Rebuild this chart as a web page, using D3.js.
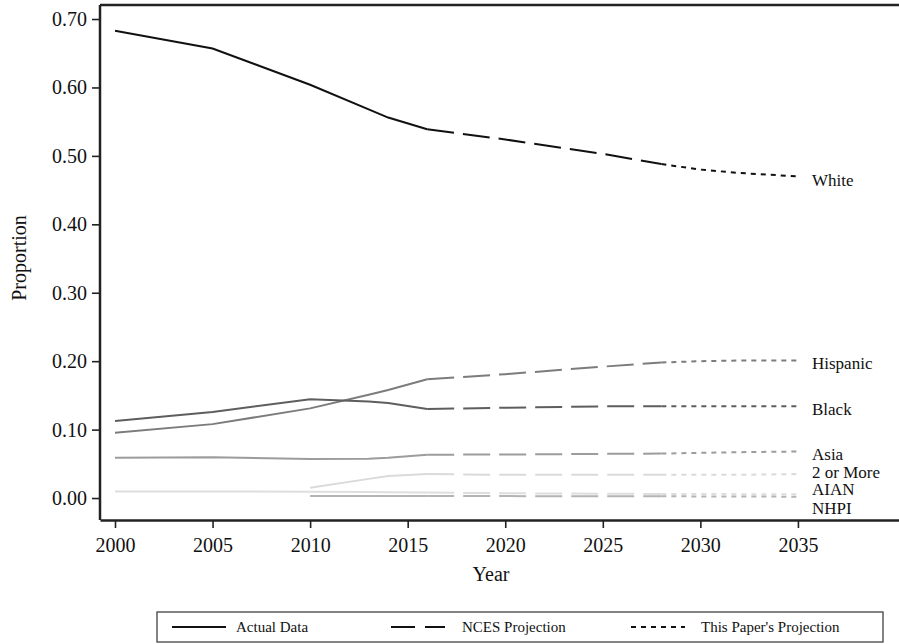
<!DOCTYPE html>
<meta charset="utf-8">
<style>
    body { margin: 0; background: #fff; }
    svg text { font-family: "Liberation Serif", "Times New Roman", "DejaVu Serif", serif !important; fill: #111; }
</style>
<body>
<script src="https://d3js.org/d3.v7.min.js"></script>
<script>
    // chart size
    let width = 899;
    let height = 644;

    // years for each of the three segments
    const actualYears = [2000, 2005, 2010, 2013, 2014, 2016];
    const ncesYears = [2016, 2020, 2025, 2028];
    const paperYears = [2028, 2030, 2032, 2035];

    const groups = ["White", "Hispanic", "Black", "Asia", "2 or More", "AIAN", "NHPI"];

    // actual data (null = not reported)
    const whiteActual = [0.683, 0.657, 0.604, 0.568, 0.556, 0.539];
    const hispanicActual = [0.0955, 0.108, 0.131, 0.151, 0.158, 0.1735];
    const blackActual = [0.1126, 0.1257, 0.1443, 0.141, 0.139, 0.130];
    const asiaActual = [0.0589, 0.0597, 0.057, 0.0575, 0.059, 0.0633];
    const twoMoreActual = [null, null, 0.0151, 0.028, 0.0322, 0.035];
    const aianActual = [0.0095, 0.0095, 0.0093, 0.0088, 0.0085, 0.0080];
    const nhpiActual = [null, null, 0.003, 0.003, 0.003, 0.003];

    // NCES projection
    const whiteNces = [0.539, 0.524, 0.503, 0.488];
    const hispanicNces = [0.1735, 0.181, 0.192, 0.198];
    const blackNces = [0.130, 0.132, 0.134, 0.134];
    const asiaNces = [0.0633, 0.0636, 0.0645, 0.065];
    const twoMoreNces = [0.035, 0.034, 0.034, 0.034];
    const aianNces = [0.0080, 0.0070, 0.0062, 0.006];
    const nhpiNces = [0.003, 0.0028, 0.0026, 0.0025];

    // this paper's projection
    const whitePaper = [0.488, 0.480, 0.475, 0.470];
    const hispanicPaper = [0.198, 0.200, 0.201, 0.201];
    const blackPaper = [0.134, 0.134, 0.134, 0.134];
    const asiaPaper = [0.065, 0.066, 0.067, 0.068];
    const twoMorePaper = [0.034, 0.034, 0.034, 0.035];
    const aianPaper = [0.006, 0.0058, 0.0057, 0.0055];
    const nhpiPaper = [0.0025, 0.0024, 0.0022, 0.002];

    // where the end labels sit (in proportion units)
    const labelValues = [0.465, 0.197, 0.130, 0.064, 0.038, 0.013, -0.015];

    const yTicks = [0, 0.1, 0.2, 0.3, 0.4, 0.5, 0.6, 0.7];
    const xTicks = [2000, 2005, 2010, 2015, 2020, 2025, 2030, 2035];

    const legendLabels = ["Actual Data", "NCES Projection", "This Paper's Projection"];

    const actual = [whiteActual, hispanicActual, blackActual, asiaActual, twoMoreActual, aianActual, nhpiActual];
    const nces = [whiteNces, hispanicNces, blackNces, asiaNces, twoMoreNces, aianNces, nhpiNces];
    const paper = [whitePaper, hispanicPaper, blackPaper, asiaPaper, twoMorePaper, aianPaper, nhpiPaper];

    let color = d3.scaleOrdinal()
        .domain(groups)
        .range(["#111111", "#7c7c7c", "#5e5e5e", "#9c9c9c", "#dadada", "#dedede", "#b4b4b4"]);

    const dashes = ["none", "27,9", "5,5"];

    let svg = d3.select("body").append("svg")
        .attr("width", width)
        .attr("height", height)
        .attr("font-family", "Liberation Serif, serif");

    let x = d3.scaleLinear().domain([1999.231, 2040.18]).range([100, 899]);
    let y = d3.scaleLinear().domain([-0.0321, 0.7205]).range([520, 5]);

    // frame: top rule plus the two axes
    svg.append("line").attr("x1", 100).attr("x2", 899).attr("y1", 5).attr("y2", 5)
        .attr("stroke", "#222").attr("stroke-width", 2.5);

    let gx = svg.append("g").attr("transform", "translate(0,520)")
        .call(d3.axisBottom(x).tickValues(xTicks).tickFormat(d3.format("d")).tickSize(8).tickSizeOuter(0));
    let gy = svg.append("g").attr("transform", "translate(100,0)")
        .call(d3.axisLeft(y).tickValues(yTicks).tickFormat(d3.format(".2f")).tickSize(8).tickSizeOuter(0));

    [gx, gy].forEach(g => {
        g.attr("font-family", null).attr("font-size", null);
        g.select(".domain").attr("stroke", "#222").attr("stroke-width", 2.5);
        g.selectAll(".tick line").attr("stroke", "#222").attr("stroke-width", 1.6);
        g.selectAll(".tick text")
            .style("font-size", "20px")
            .attr("fill", "#111");
    });
    gx.selectAll(".tick text").attr("dy", "1.05em");
    gy.selectAll(".tick text").attr("x", -13);
    gy.select(".domain").attr("d", "M0,5V520");

    // axis titles
    svg.append("text")
        .attr("x", 491).attr("y", 581)
        .attr("text-anchor", "middle")
        .style("font-size", "20px")
        .text("Year");
    svg.append("text")
        .attr("transform", "translate(26,258) rotate(-90)")
        .attr("text-anchor", "middle")
        .style("font-size", "20px")
        .text("Proportion");

    let line = d3.line()
        .defined(d => d[1] !== null)
        .x(d => x(d[0]))
        .y(d => y(d[1]));

    // draw light series first so darker lines sit on top
    let order = [5, 4, 6, 3, 1, 2, 0];
    let lines = svg.append("g");
    order.forEach(i => {
        let segs = [
            actualYears.map((yr, j) => [yr, actual[i][j]]),
            ncesYears.map((yr, j) => [yr, nces[i][j]]),
            paperYears.map((yr, j) => [yr, paper[i][j]])
        ];
        segs.forEach((seg, k) => {
            lines.append("path")
                .datum(seg)
                .attr("d", line)
                .attr("fill", "none")
                .attr("stroke", color(groups[i]))
                .attr("stroke-width", 2)
                .attr("stroke-dasharray", dashes[k]);
        });
    });

    // end labels
    svg.append("g").selectAll("text")
        .data(groups)
        .join("text")
            .attr("x", 812)
            .attr("y", (d, i) => y(labelValues[i]))
            .attr("dy", "0.35em")
            .style("font-size", "17px")
            .text(d => d);

    // legend
    let legend = svg.append("g");
    legend.append("rect")
        .attr("x", 157).attr("y", 612)
        .attr("width", 726).attr("height", 30)
        .attr("fill", "none").attr("stroke", "#333").attr("stroke-width", 1.2);

    let legendX = [172, 391, 631];
    let legendTextX = [236, 462, 701];
    legendLabels.forEach((lab, k) => {
        legend.append("line")
            .attr("x1", legendX[k]).attr("x2", legendX[k] + 54)
            .attr("y1", 627).attr("y2", 627)
            .attr("stroke", "#111").attr("stroke-width", 2)
            .attr("stroke-dasharray", k === 1 ? "24,10" : dashes[k]);
        legend.append("text")
            .attr("x", legendTextX[k]).attr("y", 627)
            .attr("dy", "0.35em")
            .style("font-size", "15px")
            .text(lab);
    });
</script>
</body>
